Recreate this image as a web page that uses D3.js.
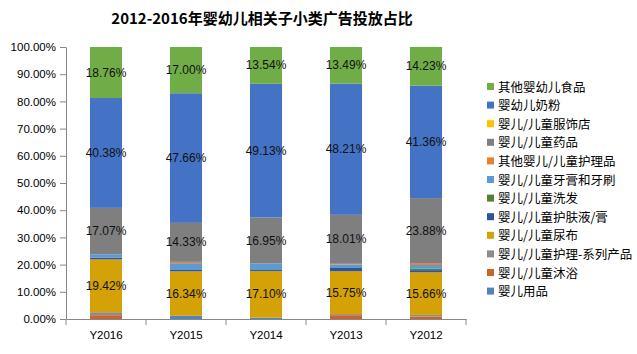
<!DOCTYPE html>
<html>
<head>
<meta charset="utf-8">
<script src="https://cdn.jsdelivr.net/npm/d3@7"></script>
<style>
  body { margin: 0; background: #fff; }
  text { font-family: "Liberation Sans", "Noto Sans CJK SC", sans-serif; }
</style>
</head>
<body>
<div class="chart"></div>
<script>
let years = ["Y2016", "Y2015", "Y2014", "Y2013", "Y2012"];

// stacked bottom -> top
let seriesNames = ["婴儿用品", "婴儿/儿童沐浴", "婴儿/儿童护理-系列产品", "婴儿/儿童尿布",
  "婴儿/儿童护肤液/膏", "婴儿/儿童洗发", "婴儿/儿童牙膏和牙刷", "其他婴儿/儿童护理品",
  "婴儿/儿童药品", "婴儿/儿童服饰店", "婴幼儿奶粉", "其他婴幼儿食品"];

let yongpin   = [0,    1.17, 0.5,  0,    0];
let muyu      = [1.4,  0,    0,    1.4,  0.9];
let huliXilie = [1.1,  0,    0,    0.4,  0.6];
let niaobu    = [19.42, 16.34, 17.10, 15.75, 15.66];
let hufu      = [0.6,  0.5,  0.4,  1.2,  0.8];
let xifa      = [0,    0,    0,    0,    0.5];
let yagao     = [1.27, 2.5,  2.38, 1.3,  1.4];
let qitaHuli  = [0,    0.5,  0,    0.24, 0.7];
let yaopin    = [17.07, 14.33, 16.95, 18.01, 23.88];
let fushi     = [0,    0,    0,    0,    0];
let naifen    = [40.38, 47.66, 49.13, 48.21, 41.36];
let qitaShipin = [18.76, 17.00, 13.54, 13.49, 14.23];

let allSeries = [yongpin, muyu, huliXilie, niaobu, hufu, xifa, yagao, qitaHuli, yaopin, fushi, naifen, qitaShipin];
let labelled = ["婴儿/儿童尿布", "婴儿/儿童药品", "婴幼儿奶粉", "其他婴幼儿食品"];

let colors = ["#5183bf", "#c9652b", "#8c8c8c", "#d4a106", "#2f5597", "#548235", "#5b9bd5",
  "#ed7d31", "#7f7f7f", "#ffc000", "#4472c4", "#70ad47"];

let yTicks = [0, 10, 20, 30, 40, 50, 60, 70, 80, 90, 100];

let svg = d3.select(".chart").append("svg").attr("width", 637).attr("height", 354);

svg.append("text")
  .attr("x", 262).attr("y", 24)
  .attr("text-anchor", "middle")
  .style("font-size", "15px").style("font-weight", "bold")
  .style("font-family", "'Noto Sans CJK SC', sans-serif")
  .text("2012-2016年婴幼儿相关子小类广告投放占比");

let table = years.map(function(y, i){
  let row = {year: y};
  seriesNames.forEach(function(n, j){ row[n] = allSeries[j][i]; });
  return row;
});
let stacked = d3.stack().keys(seriesNames)(table);

let xScale = d3.scaleBand().domain(years).range([66, 466]).paddingInner(0).paddingOuter(0);
let yScale = d3.scaleLinear().domain([0, 100]).range([319, 47]);
let barW = 32;

let yAxis = d3.axisLeft(yScale).tickValues(yTicks).tickSize(6).tickSizeOuter(0)
  .tickFormat(function(d){ return d.toFixed(2) + "%"; });
let yg = svg.append("g").attr("transform", "translate(66,0)").call(yAxis);
yg.select(".domain").attr("stroke", "#868686");
yg.selectAll(".tick line").attr("stroke", "#868686");
yg.selectAll("text").style("font-size", "11.5px").attr("fill", "#000").attr("x", -10);

let layers = svg.selectAll(".layer").data(stacked).enter()
  .append("g").attr("class", "layer")
  .attr("fill", function(d, i){ return colors[i]; });

layers.selectAll("rect").data(function(d){ return d; }).enter()
  .append("rect")
  .attr("x", function(d){ return xScale(d.data.year) + (xScale.bandwidth() - barW) / 2; })
  .attr("width", barW)
  .attr("y", function(d){ return yScale(d[1]); })
  .attr("height", function(d){ return yScale(d[0]) - yScale(d[1]); });

stacked.forEach(function(s){
  if (labelled.indexOf(s.key) < 0) return;
  svg.append("g").selectAll("text").data(s).enter()
    .append("text")
    .attr("x", function(d){ return xScale(d.data.year) + xScale.bandwidth() / 2; })
    .attr("y", function(d){ return (yScale(d[0]) + yScale(d[1])) / 2 + 4; })
    .attr("text-anchor", "middle")
    .style("font-size", "12px")
    .attr("fill", "#111")
    .text(function(d){ return (d[1] - d[0]).toFixed(2) + "%"; });
});

let xAxis = d3.axisBottom(xScale).tickSize(0).tickSizeOuter(0);
let xg = svg.append("g").attr("transform", "translate(0,319)").call(xAxis);
xg.select(".domain").attr("stroke", "#868686");
xg.selectAll("text").style("font-size", "11.5px").attr("fill", "#000").attr("y", 20).attr("dy", 0);
// category boundary ticks
xg.selectAll(".bound").data(years.concat(["end"])).enter()
  .append("line")
  .attr("x1", function(d, i){ return 66 + i * xScale.bandwidth(); })
  .attr("x2", function(d, i){ return 66 + i * xScale.bandwidth(); })
  .attr("y1", 0).attr("y2", 6)
  .attr("stroke", "#868686");

// legend, top -> bottom is reverse of stack
let legendItems = seriesNames.slice().reverse();
let legend = svg.append("g").attr("transform", "translate(487,87)");
legendItems.forEach(function(n, i){
  let g = legend.append("g").attr("transform", "translate(0," + (i * 18.6) + ")");
  g.append("rect").attr("x", 0).attr("y", -4).attr("width", 7).attr("height", 7)
    .attr("fill", colors[seriesNames.indexOf(n)]);
  g.append("text").attr("x", 11).attr("y", 4.5)
    .style("font-size", "12.5px")
    .style("font-family", "'Noto Sans CJK SC', sans-serif")
    .attr("fill", "#000")
    .text(n);
});
</script>
</body>
</html>
